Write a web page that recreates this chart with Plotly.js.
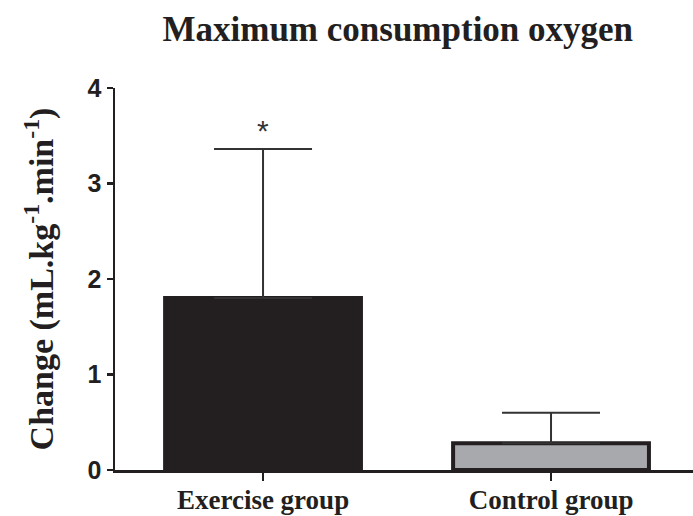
<!DOCTYPE html>
<html>
<head>
<meta charset="utf-8">
<script src="https://cdn.plot.ly/plotly-3.0.1.min.js"></script>
<style>html,body{margin:0;padding:0;background:#fff;}#chart{width:693px;height:516px;}</style>
</head>
<body>
<div id="chart"></div>
<script>
var categories = ["Exercise group", "Control group"];
var changeValues = [1.80, 0.28];
var errorUpper = [1.56, 0.32];
var barColors = ["#231f20", "#a7a9ac"];
var significance = ["*", ""];
var yTickValues = [0, 1, 2, 3, 4];

var trace = {
  type: "bar",
  x: categories,
  y: changeValues,
  width: 0.68,
  marker: {color: barColors, line: {color: "#231f20", width: 4}},
  error_y: {type: "data", symmetric: false, array: errorUpper, arrayminus: [0, 0],
            color: "#333333", thickness: 2, width: 49},
  hoverinfo: "none"
};

var annotations = [];
for (var i = 0; i < categories.length; i++) {
  if (significance[i]) {
    annotations.push({x: categories[i], y: changeValues[i] + errorUpper[i], xref: "x", yref: "y",
      text: significance[i], showarrow: false, yanchor: "bottom", yshift: 0,
      font: {family: "Liberation Sans", size: 30, color: "#333"}});
  }
}

var layout = {
  width: 693, height: 516,
  margin: {l: 115, r: 0, t: 88, b: 46, pad: 0},
  paper_bgcolor: "#fff", plot_bgcolor: "#fff",
  showlegend: false,
  title: {text: "Maximum consumption oxygen", x: 0.574, xref: "container", xanchor: "center", y: 0.945, yanchor: "middle",
          font: {family: "Liberation Serif", size: 35, weight: 700, color: "#231f20"}},
  xaxis: {
    range: [-0.514, 1.493], showgrid: false, zeroline: false,
    showline: true, linecolor: "#231f20", linewidth: 2.5,
    ticks: "outside", ticklen: 8, tickwidth: 2.5, tickcolor: "#231f20",
    ticklabelstandoff: -4,
    tickfont: {family: "Liberation Serif", size: 27, weight: 700, color: "#231f20"},
    fixedrange: true
  },
  yaxis: {
    range: [0, 4], tickvals: yTickValues, showgrid: false, zeroline: false,
    showline: true, linecolor: "#231f20", linewidth: 2.5,
    ticks: "outside", ticklen: 6, tickwidth: 2.5, tickcolor: "#231f20",
    tickfont: {family: "Liberation Sans", size: 25, weight: 700, color: "#231f20"},
    title: {text: "Change (mL.kg<sup>-1</sup>.min<sup>-1</sup>)", standoff: 24,
            font: {family: "Liberation Serif", size: 34, weight: 700, color: "#231f20"}},
    fixedrange: true
  },
  annotations: annotations
};

Plotly.newPlot("chart", [trace], layout, {displayModeBar: false, staticPlot: true});
</script>
</body>
</html>
